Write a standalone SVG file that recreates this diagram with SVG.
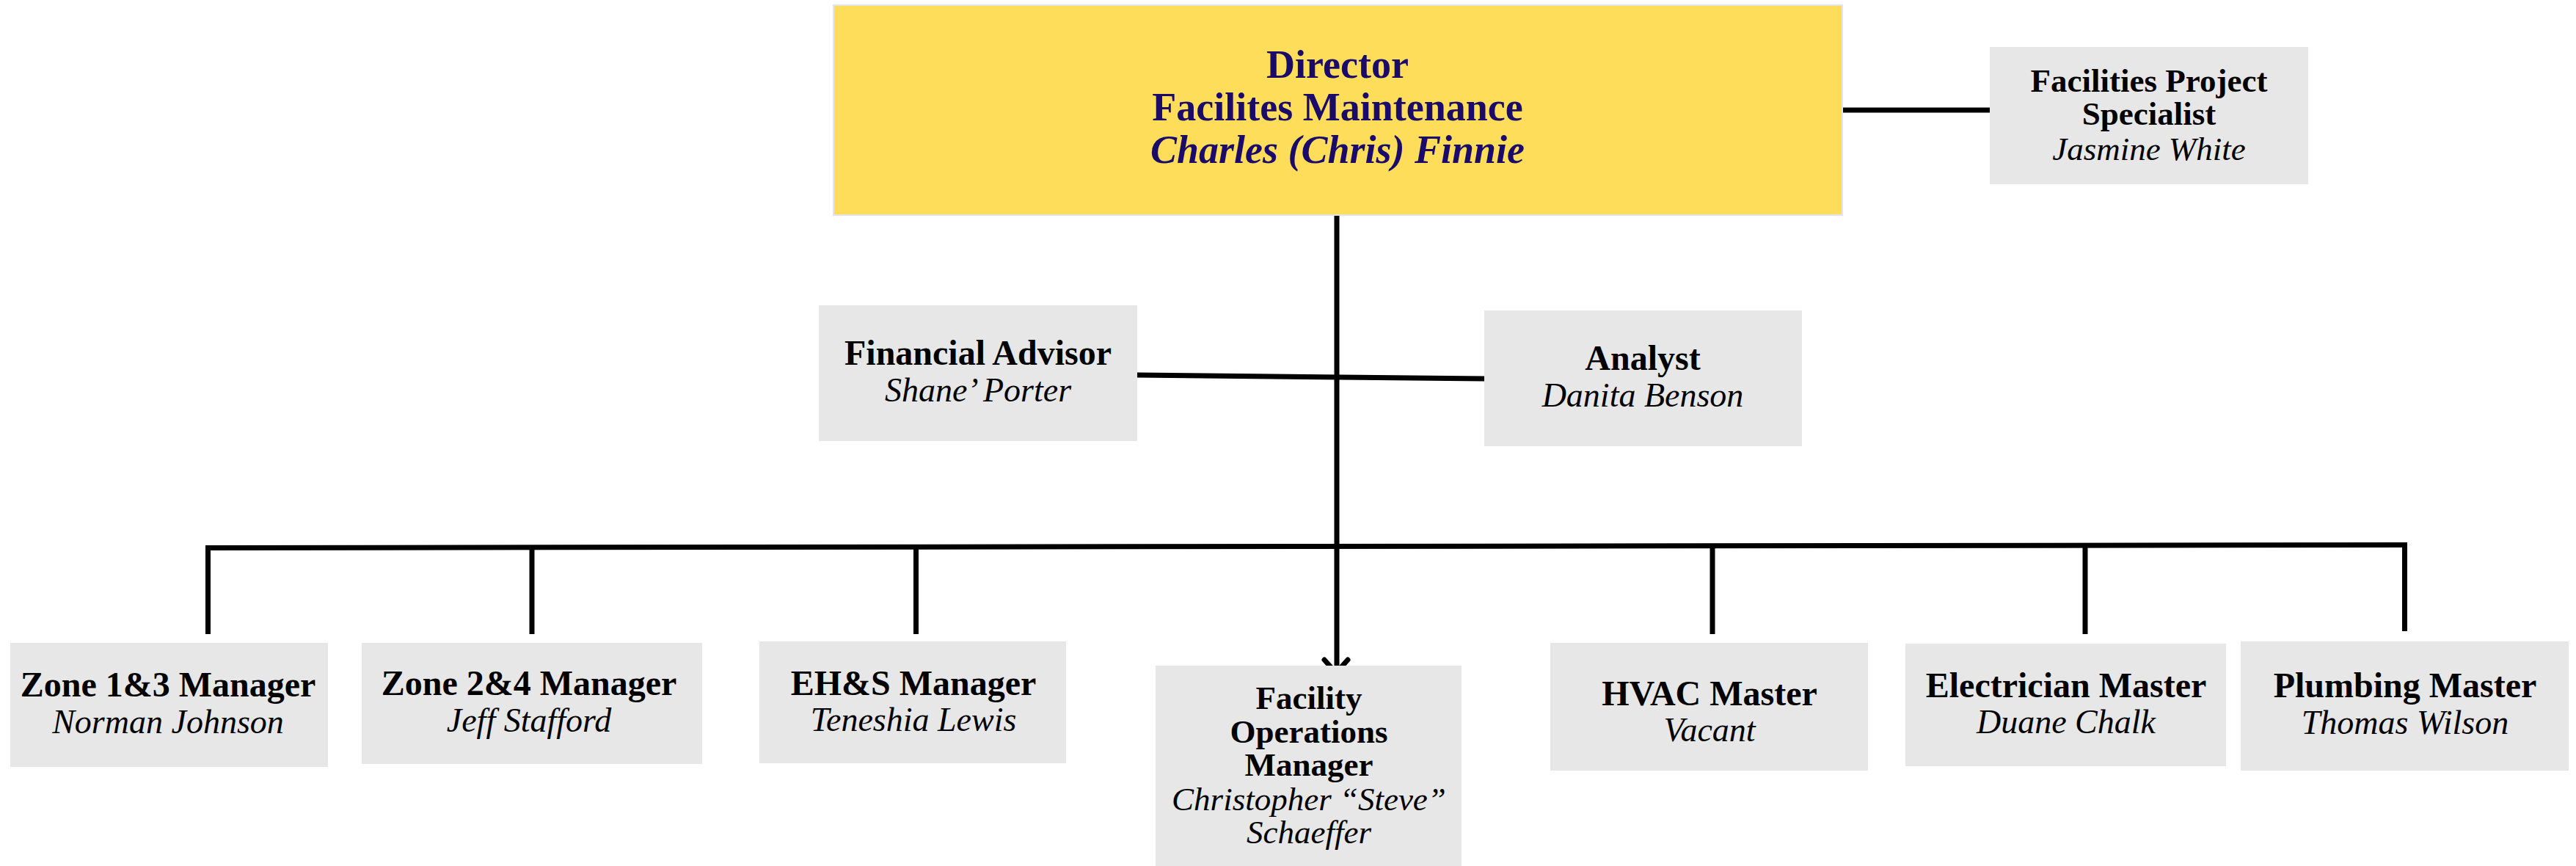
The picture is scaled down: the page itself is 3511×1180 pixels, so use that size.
<svg xmlns="http://www.w3.org/2000/svg" width="3511" height="1180" viewBox="0 0 3511 1180">
<style>
.box{fill:#E7E7E7;}
.main{fill:#FEDD5A;stroke:#E4E4E4;stroke-width:2;}
.t{font-family:"Liberation Serif","Times New Roman",serif;font-weight:bold;font-size:48px;fill:#000;text-anchor:middle;}
.n{font-family:"Liberation Serif","Times New Roman",serif;font-style:italic;font-size:46px;fill:#000;text-anchor:middle;}
.s{font-size:45px;}
.mt{font-family:"Liberation Serif","Times New Roman",serif;font-weight:bold;font-size:54px;fill:#1A0B6B;text-anchor:middle;}
.mi{font-style:italic;}
.ln{stroke:#000;stroke-width:7;fill:none;}
.arr{stroke:#000;stroke-width:7;fill:none;stroke-linecap:round;stroke-linejoin:round;}
</style>
<rect width="3511" height="1180" fill="#fff"/>
<g id="connectors">
<line class="ln" x1="1822" y1="293" x2="1822" y2="914"/>
<polyline class="arr" points="1805,899 1821,917 1837,899"/>
<line class="ln" x1="2511" y1="150" x2="2712" y2="150"/>
<line class="ln" x1="1550" y1="511" x2="2023" y2="516"/>
<line class="ln" x1="280" y1="746.5" x2="3281" y2="742.5"/>
<line class="ln" x1="283.5" y1="746" x2="283.5" y2="864"/>
<line class="ln" x1="725" y1="746" x2="725" y2="864"/>
<line class="ln" x1="1248.5" y1="746" x2="1248.5" y2="864"/>
<line class="ln" x1="2334" y1="744" x2="2334" y2="864"/>
<line class="ln" x1="2842" y1="744" x2="2842" y2="864"/>
<line class="ln" x1="3277.5" y1="739" x2="3277.5" y2="860"/>
</g>
<g id="director">
<rect class="main" x="1136" y="7" width="1375" height="286"/>
<text class="mt" x="1823" y="106">Director</text>
<text class="mt" x="1823" y="164">Facilites Maintenance</text>
<text class="mt mi" x="1823" y="222">Charles (Chris) Finnie</text>
</g>
<g id="project-specialist">
<rect class="box" x="2712" y="64" width="434" height="187"/>
<text class="t s" x="2929" y="125">Facilities Project</text>
<text class="t s" x="2929" y="170">Specialist</text>
<text class="n s" x="2929" y="218">Jasmine White</text>
</g>
<g id="financial-advisor">
<rect class="box" x="1116" y="416" width="434" height="185"/>
<text class="t" x="1333" y="497">Financial Advisor</text>
<text class="n" x="1333" y="547">Shane’ Porter</text>
</g>
<g id="analyst">
<rect class="box" x="2023" y="423" width="433" height="185"/>
<text class="t" x="2239" y="504">Analyst</text>
<text class="n" x="2239" y="554">Danita Benson</text>
</g>
<g id="zone13">
<rect class="box" x="14" y="876" width="433" height="169"/>
<text class="t" x="229" y="949">Zone 1&amp;3 Manager</text>
<text class="n" x="229" y="999">Norman Johnson</text>
</g>
<g id="zone24">
<rect class="box" x="493" y="876" width="464" height="165"/>
<text class="t" x="721" y="947">Zone 2&amp;4 Manager</text>
<text class="n" x="721" y="997">Jeff Stafford</text>
</g>
<g id="ehs">
<rect class="box" x="1035" y="874" width="418" height="166"/>
<text class="t" x="1245" y="947">EH&amp;S Manager</text>
<text class="n" x="1245" y="996">Teneshia Lewis</text>
</g>
<g id="facility-ops">
<rect class="box" x="1575" y="907" width="417" height="273"/>
<text class="t s" x="1784" y="966">Facility</text>
<text class="t s" x="1784" y="1012">Operations</text>
<text class="t s" x="1784" y="1057">Manager</text>
<text class="n s" x="1784" y="1104">Christopher “Steve”</text>
<text class="n s" x="1784" y="1149">Schaeffer</text>
</g>
<g id="hvac">
<rect class="box" x="2113" y="876" width="433" height="174"/>
<text class="t" x="2330" y="961">HVAC Master</text>
<text class="n" x="2330" y="1010">Vacant</text>
</g>
<g id="electrician">
<rect class="box" x="2597" y="877" width="437" height="167"/>
<text class="t" x="2816" y="950">Electrician Master</text>
<text class="n" x="2816" y="999">Duane Chalk</text>
</g>
<g id="plumbing">
<rect class="box" x="3054" y="874" width="447" height="176"/>
<text class="t" x="3278" y="950">Plumbing Master</text>
<text class="n" x="3278" y="1000">Thomas Wilson</text>
</g>
</svg>
